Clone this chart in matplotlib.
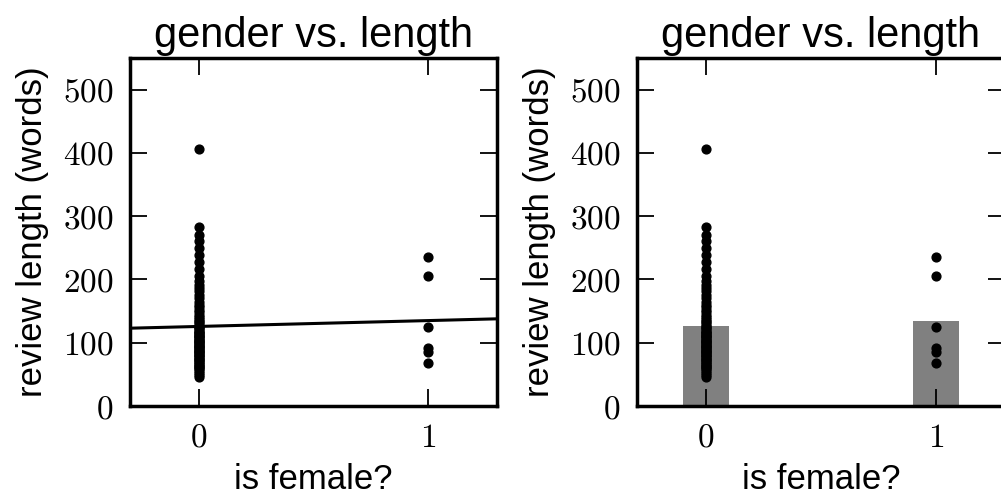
import numpy as np
import matplotlib
matplotlib.use("Agg")
import matplotlib.pyplot as plt
from matplotlib.ticker import FuncFormatter

# review lengths (words)
male_lengths = [406, 283, 271, 260, 249, 238, 227, 216, 205, 198, 192, 187, 181,
                176, 170, 165, 160, 156, 152, 148, 144, 141, 138, 135, 132, 129,
                127, 125, 123, 121, 119, 117, 115, 113, 111, 109, 107, 105, 103,
                101, 99, 97, 95, 93, 91, 89, 87, 85, 83, 81, 79, 77, 75, 73, 70,
                67, 64, 61, 58, 55, 52, 49, 46, 100, 95, 90, 85, 80, 75, 70, 65,
                60, 110, 105, 115]
female_lengths = [235, 205, 125, 91, 86, 68]

x_ticks = [0, 1]
y_ticks = [0, 100, 200, 300, 400, 500]
title = "gender vs. length"
xlabel = "is female?"
ylabel = "review length (words)"

plt.rcParams['font.family'] = ['Liberation Sans', 'DejaVu Sans']
plt.rcParams['mathtext.fontset'] = 'cm'

x = np.array([0] * len(male_lengths) + [1] * len(female_lengths))
y = np.array(male_lengths + female_lengths)
slope, intercept = np.polyfit(x, y, 1)
means = [np.mean(male_lengths), np.mean(female_lengths)]

fig = plt.figure(figsize=(10.01, 4.98), dpi=100)
ax1 = fig.add_axes([130 / 1001, 92 / 498, 367 / 1001, 348 / 498])
ax2 = fig.add_axes([637 / 1001, 92 / 498, 368 / 1001, 348 / 498])

mathfmt = FuncFormatter(lambda v, p: r'$%g$' % v)

def style(ax):
    ax.set_xlim(-0.3, 1.3)
    ax.set_ylim(0, 550)
    ax.set_xticks(x_ticks)
    ax.set_yticks(y_ticks)
    ax.xaxis.set_major_formatter(mathfmt)
    ax.yaxis.set_major_formatter(mathfmt)
    ax.tick_params(direction='in', length=12, width=1.3, top=True, right=True,
                   labelsize=24)
    ax.tick_params(axis='y', pad=12)
    ax.tick_params(axis='x', pad=12)
    for s in ax.spines.values():
        s.set_linewidth(2.5)
    ax.set_title(title, fontsize=30, pad=8)
    ax.set_xlabel(xlabel, fontsize=25, labelpad=7)
    ax.set_ylabel(ylabel, fontsize=25, labelpad=10)

# left: scatter with fitted line
ax1.scatter(x, y, s=40, color='k', zorder=3)
xs = np.array([-0.3, 1.3])
ax1.plot(xs, intercept + slope * xs, color='k', lw=2.2)
style(ax1)

# right: mean bars with scatter
ax2.bar(x_ticks, means, width=0.2, color='#808080', zorder=1)
ax2.scatter(x, y, s=40, color='k', zorder=3)
style(ax2)

fig.savefig("out.png", dpi=100)
